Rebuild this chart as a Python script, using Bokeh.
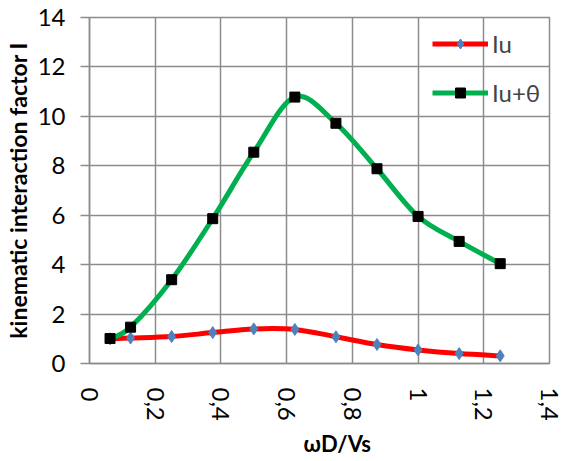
import math
from bokeh.plotting import figure
from bokeh.models import (FixedTicker, CustomJSTickFormatter, Legend, LegendItem,
                          ColumnDataSource, Range1d, Title)
from bokeh.embed import file_html
from bokeh.resources import INLINE

# ---- data ----
x_vals = [0.0625, 0.125, 0.25, 0.375, 0.5, 0.625, 0.75, 0.875, 1.0, 1.125, 1.25]
iu = [1.00, 1.03, 1.09, 1.25, 1.40, 1.38, 1.08, 0.77, 0.55, 0.40, 0.31]
iu_theta = [1.01, 1.47, 3.39, 5.86, 8.55, 10.78, 9.72, 7.88, 5.95, 4.94, 4.04]
x_ticks = [0, 0.2, 0.4, 0.6, 0.8, 1.0, 1.2, 1.4]
y_ticks = [0, 2, 4, 6, 8, 10, 12, 14]
series_names = ["Iu", "Iu+θ"]
x_title = "ωD/Vs"
y_title = "kinematic interaction factor I"

FONT = "Lato"
GRID = "#8c8c8c"


def smooth_segments(xs, ys):
    """Bezier control points (Excel-like smoothing) for consecutive data points."""
    n = len(xs)
    d = dict(x0=[], y0=[], x1=[], y1=[], cx0=[], cy0=[], cx1=[], cy1=[])
    for i in range(n - 1):
        xp, yp = (xs[i - 1], ys[i - 1]) if i > 0 else (xs[i], ys[i])
        xn2, yn2 = (xs[i + 2], ys[i + 2]) if i + 2 < n else (xs[i + 1], ys[i + 1])
        d["x0"].append(xs[i]); d["y0"].append(ys[i])
        d["x1"].append(xs[i + 1]); d["y1"].append(ys[i + 1])
        d["cx0"].append(xs[i] + (xs[i + 1] - xp) / 6.0)
        d["cy0"].append(ys[i] + (ys[i + 1] - yp) / 6.0)
        d["cx1"].append(xs[i + 1] - (xn2 - xs[i]) / 6.0)
        d["cy1"].append(ys[i + 1] - (yn2 - ys[i]) / 6.0)
    return ColumnDataSource(d)


p = figure(width=563, height=461, output_backend="svg", toolbar_location=None,
           x_range=Range1d(0, 1.4), y_range=Range1d(0, 14),
           min_border_left=88, min_border_right=14, min_border_top=17,
           min_border_bottom=0)
p.background_fill_color = "white"
p.border_fill_color = "white"
p.outline_line_color = GRID
p.outline_line_width = 1.5

# axes
p.xaxis.ticker = FixedTicker(ticks=x_ticks)
p.yaxis.ticker = FixedTicker(ticks=y_ticks)
p.xaxis.formatter = CustomJSTickFormatter(
    code="return (Math.round(tick*10)/10).toString().replace('.', ',');")
p.xaxis.major_label_orientation = "vertical"
for ax in (p.xaxis[0], p.yaxis[0]):
    ax.axis_line_color = GRID
    ax.axis_line_width = 1.5
    ax.major_tick_line_color = GRID
    ax.major_tick_line_width = 1.5
    ax.minor_tick_line_color = None
    ax.major_tick_in = 0
    ax.major_label_text_font = FONT
    ax.major_label_text_font_size = "24px"
    ax.major_label_text_color = "black"
    ax.axis_label_text_font = FONT
    ax.axis_label_text_font_style = "bold"
    ax.axis_label_text_color = "black"
p.xaxis.major_tick_out = 0
p.xaxis.major_label_standoff = 24
p.yaxis.major_tick_out = 9
p.yaxis.major_label_standoff = 15
p.yaxis.axis_label = y_title
p.yaxis.axis_label_text_font_size = "23px"
p.yaxis.axis_label_standoff = 3

p.xgrid.grid_line_color = GRID
p.ygrid.grid_line_color = GRID
p.xgrid.grid_line_width = 1.5
p.ygrid.grid_line_width = 1.5

# x axis title (below the axis, shifted right as in the reference)
p.add_layout(Title(text=x_title, align="left", offset=214, text_font=FONT,
                   text_font_style="bold", text_font_size="22px",
                   text_color="black", standoff=9), "below")

# series
src_iu = ColumnDataSource(dict(x=x_vals, y=iu))
src_it = ColumnDataSource(dict(x=x_vals, y=iu_theta))

r_line = p.bezier(x0="x0", y0="y0", x1="x1", y1="y1", cx0="cx0", cy0="cy0",
                  cx1="cx1", cy1="cy1", source=smooth_segments(x_vals, iu),
                  line_color="#ff0000", line_width=5)
r_pts = p.scatter("x", "y", source=src_iu, marker="diamond", size=12,
                  fill_color="#4f81bd", line_color="#4f81bd")
g_line = p.bezier(x0="x0", y0="y0", x1="x1", y1="y1", cx0="cx0", cy0="cy0",
                  cx1="cx1", cy1="cy1", source=smooth_segments(x_vals, iu_theta),
                  line_color="#00b050", line_width=5)
g_pts = p.scatter("x", "y", source=src_it, marker="square", size=10,
                  fill_color="black", line_color="black")

legend = Legend(items=[LegendItem(label=series_names[0], renderers=[r_line, r_pts]),
                       LegendItem(label=series_names[1], renderers=[g_line, g_pts])],
                location=(343, 256), padding=0, margin=0, spacing=20,
                glyph_width=56, glyph_height=25, label_height=25, label_standoff=4,
                label_text_font=FONT, label_text_font_size="24px",
                background_fill_alpha=0, border_line_color=None)
p.add_layout(legend)

open("out.html", "w").write(file_html(p, INLINE))
